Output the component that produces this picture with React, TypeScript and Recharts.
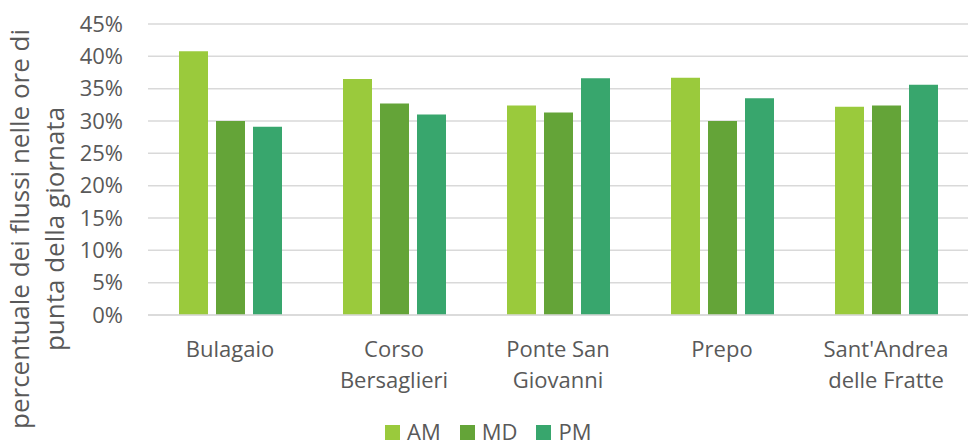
import { BarChart, Bar, XAxis, YAxis, CartesianGrid, Legend } from 'recharts';

const categories = ['Bulagaio', 'Corso Bersaglieri', 'Ponte San Giovanni', 'Prepo', "Sant'Andrea delle Fratte"];
const tickLines: Record<string, string[]> = {
  Bulagaio: ['Bulagaio'],
  'Corso Bersaglieri': ['Corso', 'Bersaglieri'],
  'Ponte San Giovanni': ['Ponte San', 'Giovanni'],
  Prepo: ['Prepo'],
  "Sant'Andrea delle Fratte": ["Sant'Andrea", 'delle Fratte'],
};
const am = [40.8, 36.5, 32.4, 36.7, 32.2];
const md = [30.0, 32.7, 31.3, 30.0, 32.4];
const pm = [29.1, 31.0, 36.6, 33.5, 35.6];
const yTicks = [0, 5, 10, 15, 20, 25, 30, 35, 40, 45];

const series = [
  { key: 'AM', color: '#9ACA3C' },
  { key: 'MD', color: '#64A438' },
  { key: 'PM', color: '#38A66D' },
];

const data = categories.map((name, i) => ({ name, AM: am[i], MD: md[i], PM: pm[i] }));

const FONT = '"Open Sans", sans-serif';
const TEXT = '#595959';

const XTick = ({ x, y, payload }: any) => {
  const lines = tickLines[payload.value] || [payload.value];
  return (
    <text x={x} y={y} textAnchor="middle" fill={TEXT} style={{ fontFamily: FONT, fontSize: 22 }}>
      {lines.map((l, i) => (
        <tspan key={i} x={x} dy={i === 0 ? 42 : 31}>
          {l}
        </tspan>
      ))}
    </text>
  );
};

const YTitle = () => (
  <text
    transform="rotate(-90)"
    textAnchor="middle"
    fill={TEXT}
    style={{ fontFamily: FONT, fontSize: 26 }}
  >
    <tspan x={-229} y={29}>percentuale dei flussi nelle ore di</tspan>
    <tspan x={-229} y={64}>punta della giornata</tspan>
  </text>
);

const LegendContent = () => (
  <div style={{ display: 'flex', alignItems: 'center', paddingLeft: 385, height: 22 }}>
    {series.map((s) => (
      <div key={s.key} style={{ display: 'flex', alignItems: 'center', marginRight: 19 }}>
        <span style={{ width: 15, height: 15, background: s.color, marginRight: 7, marginTop: 3 }} />
        <span style={{ fontFamily: FONT, fontSize: 22, color: TEXT, lineHeight: '22px' }}>{s.key}</span>
      </div>
    ))}
  </div>
);

export default function App() {
  return (
    <div style={{ position: 'absolute', left: 0, top: 0, background: '#fff' }}>
      <BarChart
        width={968}
        height={447}
        data={data}
        margin={{ top: 24, right: 0, left: 0, bottom: 0 }}
        barGap={8}
        barSize={29}
      >
        <CartesianGrid vertical={false} stroke="#D9D9D9" strokeWidth={1.5} />
        <XAxis
          dataKey="name"
          height={132}
          axisLine={{ stroke: '#D9D9D9', strokeWidth: 1.5 }}
          tickLine={false}
          tickSize={0}
          tickMargin={0}
          interval={0}
          tick={<XTick />}
        />
        <YAxis
          width={148}
          domain={[0, 45]}
          ticks={yTicks}
          axisLine={false}
          tickLine={false}
          tickSize={6}
          tickMargin={19}
          tickFormatter={(v: number) => `${v}%`}
          tick={{ fill: TEXT, fontSize: 22, fontFamily: FONT }}
          label={<YTitle />}
        />
        <Legend
          layout="horizontal"
          verticalAlign="middle"
          align="center"
          content={<LegendContent />}
          wrapperStyle={{ position: 'absolute', top: 420, left: 0, width: 968 }}
        />
        {series.map((s) => (
          <Bar key={s.key} dataKey={s.key} fill={s.color} isAnimationActive={false} />
        ))}
      </BarChart>
    </div>
  );
}
